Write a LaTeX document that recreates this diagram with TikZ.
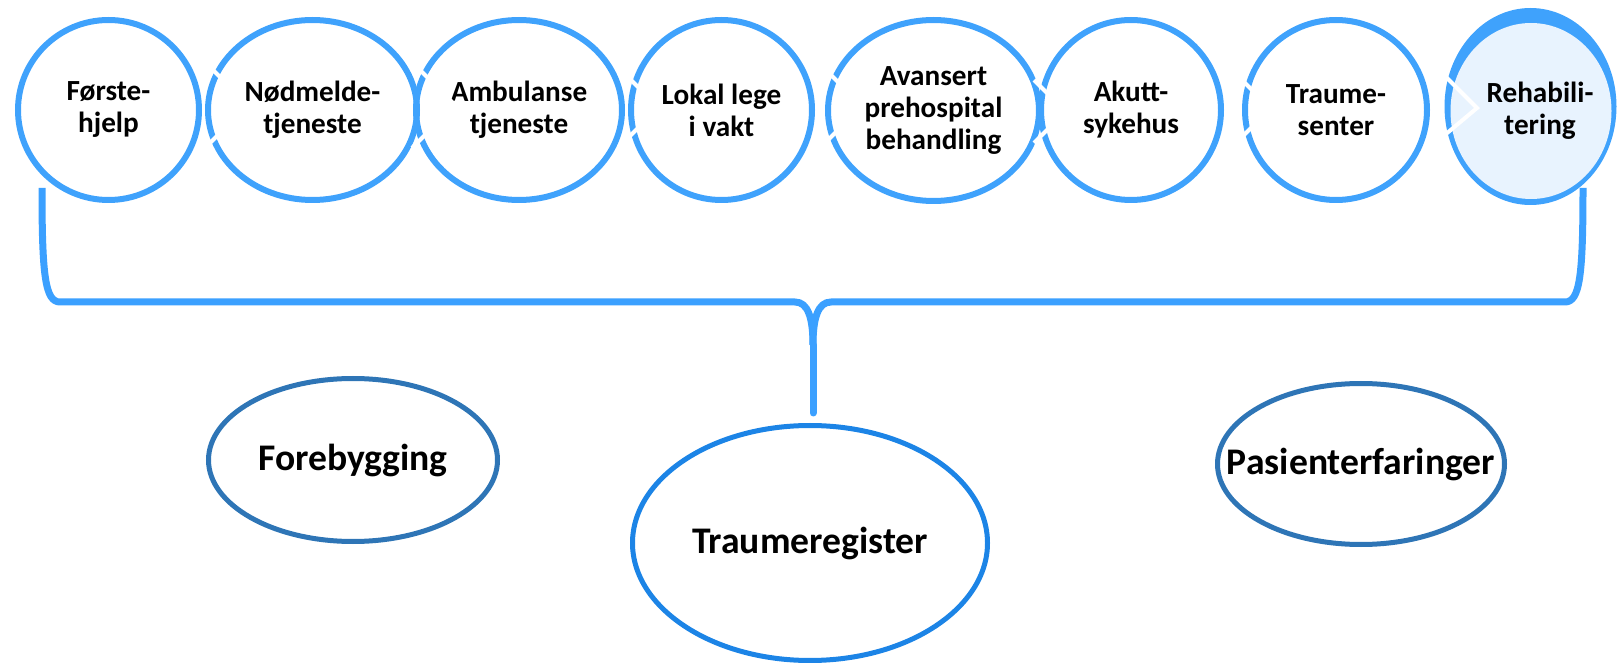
\documentclass[tikz,border=0pt]{standalone}
\usepackage{fontspec}
\setmainfont{Carlito}
\usetikzlibrary{shapes.geometric}
\definecolor{topblue}{HTML}{3FA2FC}
\definecolor{brblue}{HTML}{3BA0FF}
\definecolor{sideblue}{HTML}{2E75B6}
\definecolor{regblue}{HTML}{1C84E6}
\definecolor{rehabfill}{HTML}{E8F3FE}
\begin{document}
\begin{tikzpicture}[x=0.5pt,y=-0.5pt,
  topc/.style={ellipse, draw=topblue, line width=3pt, inner sep=0pt, align=center,
    font=\fontsize{14.6}{16}\selectfont\bfseries, minimum height=90pt},
  toptxt/.style={inner sep=0pt, align=center, font=\fontsize{14.6}{16}\selectfont\bfseries},
  sidee/.style={ellipse, draw=sideblue, line width=2.5pt, inner sep=0pt,
    font=\fontsize{18.8}{22}\selectfont\bfseries},
  chev/.style={draw=white, line width=2pt, line join=miter},
  bracestyle/.style={draw=brblue, line width=3.5pt, line join=round}]
\useasboundingbox (0,0) rectangle (1619,663);

% top row
\node[topc, minimum width=90.5pt] (c1) at (108.5,110) {Første-\\hjelp};
\node[topc, minimum width=104.5pt] (c2) at (312.5,110) {Nødmelde-\\tjeneste};
\node[topc, minimum width=103pt] (c3) at (519,110) {Ambulanse\\tjeneste};
\node[topc, minimum width=90.5pt] (c4) at (721.5,110) {Lokal lege\\i vakt};
\node[topc, minimum width=105.5pt, minimum height=90.5pt] (c5) at (933.5,110.5) {Avansert\\prehospital\\behandling};
\node[topc, minimum width=90pt] (c6) at (1131,110) {Akutt-\\sykehus};
\node[topc, minimum width=91pt] (c7) at (1336,110) {Traume-\\senter};
\node[ellipse, fill=topblue, inner sep=0pt, minimum width=86pt, minimum height=98.5pt] (c8) at (1530.5,106.5) {};
\fill[rehabfill] (1531,111) ellipse [x radius=80.5, y radius=88];

% white chevrons (gaps)
\foreach \gx/\ya/\yb in {213/70/140, 420/70/140, 633/82/133, 833/77/135, 1042/88/135, 1247/85/132}{
  \draw[chev] (\gx-8,\ya-8) -- ({\gx+(\yb-\ya)/2},{(\ya+\yb)/2}) -- (\gx-8,\yb+8);
}
\draw[chev] (1440,71) -- (1477,108) -- (1440,139);
\node[toptxt] (c8t) at (1540,111) {Rehabili-\\tering};

% bottom ellipses
\node[sidee, minimum width=144.5pt, minimum height=81.5pt] (fb) at (353,460) {Forebygging};
\node[ellipse, draw=regblue, line width=2.5pt, inner sep=0pt, font=\fontsize{18.8}{22}\selectfont\bfseries,
  minimum width=177.5pt, minimum height=117.5pt] (tr) at (810,543) {Traumeregister};
\node[sidee, minimum width=143.5pt, minimum height=80.5pt] (pe) at (1361,464) {\makebox[0pt]{Pasienterfaringer}};

% bracket
\coordinate (bl) at (42,188);
\coordinate (br) at (1583,188);
\coordinate (bm) at (813,345);
\coordinate (be) at (813,413);
\draw[bracestyle] (bl) .. controls (42,275) and (45,302) .. (60,302) -- (795,302)
   .. controls (808,302) and (813,318) .. (bm);
\draw[bracestyle] (br) .. controls (1583,275) and (1580,302) .. (1565,302) -- (831,302)
   .. controls (818,302) and (813,318) .. (bm);
\draw[bracestyle, line cap=round] (bm) -- (be);
\end{tikzpicture}
\end{document}
